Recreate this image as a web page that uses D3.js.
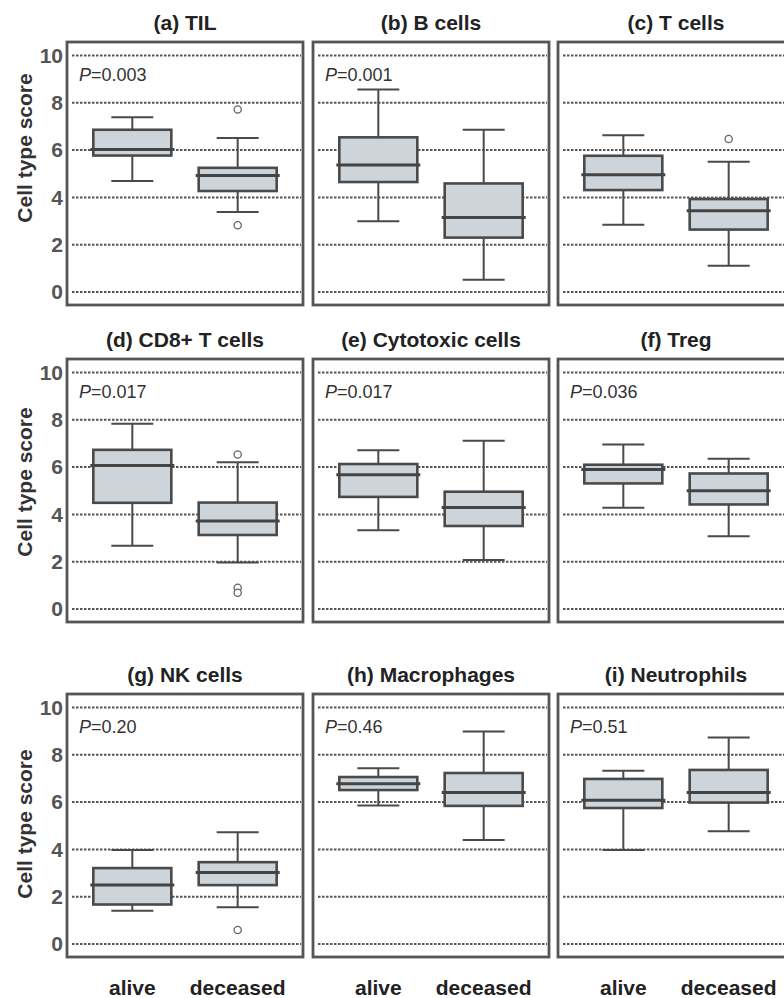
<!DOCTYPE html>
<html>
<head>
<meta charset="utf-8">
<script src="https://cdn.jsdelivr.net/npm/d3@7"></script>
<style>
  body { margin: 0; background: #fff; }
  svg { display: block; font-family: "Liberation Sans", Arial, sans-serif; }
</style>
</head>
<body>
<div id="chart"></div>
<script>
// panel titles and p values
const panelTitles = ["(a) TIL", "(b) B cells", "(c) T cells",
  "(d) CD8+ T cells", "(e) Cytotoxic cells", "(f) Treg",
  "(g) NK cells", "(h) Macrophages", "(i) Neutrophils"];
const pValues = ["0.003", "0.001", null, "0.017", "0.017", "0.036", "0.20", "0.46", "0.51"];
const groups = ["alive", "deceased"];
const yTicks = [0, 2, 4, 6, 8, 10];

// box stats per panel: [alive, deceased]
const whiskLow = [[4.69, 3.38], [2.99, 0.52], [2.84, 1.11], [2.67, 1.97], [3.33, 2.07], [4.28, 3.08], [1.41, 1.55], [5.86, 4.40], [3.97, 4.77]];
const q1 = [[5.77, 4.27], [4.65, 2.30], [4.31, 2.64], [4.49, 3.13], [4.74, 3.51], [5.31, 4.42], [1.67, 2.49], [6.51, 5.84], [5.75, 5.98]];
const medians = [[6.03, 4.93], [5.37, 3.15], [4.96, 3.44], [6.07, 3.72], [5.68, 4.29], [5.90, 5.00], [2.50, 3.02], [6.78, 6.41], [6.08, 6.41]];
const q3 = [[6.86, 5.25], [6.54, 4.59], [5.76, 3.93], [6.73, 4.50], [6.13, 4.96], [6.10, 5.73], [3.21, 3.46], [7.06, 7.23], [6.98, 7.36]];
const whiskHigh = [[7.39, 6.51], [8.56, 6.86], [6.63, 5.51], [7.83, 6.21], [6.71, 7.11], [6.96, 6.35], [3.97, 4.73], [7.43, 8.99], [7.33, 8.73]];
const outliers = [[[], [7.72, 2.82]], [[], []], [[], [6.47]], [[], [6.53, 0.90, 0.69]], [[], []], [[], []], [[], [0.59]], [[], []], [[], []]];

const width = 784, height = 998;
const colLeft = [67, 313, 558], rowTop = [42, 359, 694];
const W = 236, H = 263;
const labelY = [148, 482, 824];
const dark = "#4a4a4a";

const svg = d3.select('#chart').append('svg').attr('width', width).attr('height', height);

const y = d3.scaleLinear().domain([0, 10]).range([250, 13.5]);
const x = d3.scalePoint().domain(groups).range([0, W]).padding(0.62);
const boxW = 78, capW = 42;

panelTitles.forEach((title, i) => {
  const r = Math.floor(i / 3), c = i % 3;
  const g = svg.append('g').attr('transform', `translate(${colLeft[c]},${rowTop[r]})`);

  g.append('text').attr('x', W / 2).attr('y', -12).attr('text-anchor', 'middle')
    .attr('font-size', 21).attr('font-weight', 'bold').attr('fill', '#222').text(title);

  // dotted grid
  g.append('g').selectAll('line').data(yTicks).enter().append('line')
    .attr('x1', 5).attr('x2', W - 2)
    .attr('y1', d => y(d)).attr('y2', d => y(d))
    .attr('stroke', '#555').attr('stroke-width', 2).attr('stroke-dasharray', '2.5,1.5');

  if (c === 0) {
    const ax = g.append('g').attr('transform', 'translate(-4,0)')
      .call(d3.axisLeft(y).tickValues(yTicks).tickSize(0).tickPadding(0));
    ax.select('.domain').remove();
    ax.selectAll('text').attr('font-size', 21).attr('font-weight', 'bold')
      .attr('fill', '#555').attr('font-family', '"Liberation Sans", Arial, sans-serif');
    svg.append('text').attr('transform', `translate(32,${labelY[r]}) rotate(-90)`)
      .attr('text-anchor', 'middle').attr('font-size', 21).attr('font-weight', 'bold')
      .attr('fill', '#333').text('Cell type score');
  }

  if (pValues[i]) {
    const t = g.append('text').attr('x', 12).attr('y', 39).attr('font-size', 18).attr('fill', '#333');
    t.append('tspan').attr('font-style', 'italic').text('P');
    t.append('tspan').text('=' + pValues[i]);
  }

  groups.forEach((grp, k) => {
    const cx = x(grp);
    // whisker
    g.append('line').attr('x1', cx).attr('x2', cx)
      .attr('y1', y(whiskLow[i][k])).attr('y2', y(whiskHigh[i][k]))
      .attr('stroke', dark).attr('stroke-width', 2);
    [whiskLow[i][k], whiskHigh[i][k]].forEach(v => {
      g.append('line').attr('x1', cx - capW / 2).attr('x2', cx + capW / 2)
        .attr('y1', y(v)).attr('y2', y(v)).attr('stroke', dark).attr('stroke-width', 2);
    });
    g.append('rect').attr('x', cx - boxW / 2).attr('width', boxW)
      .attr('y', y(q3[i][k])).attr('height', y(q1[i][k]) - y(q3[i][k]))
      .attr('fill', '#cdd4da').attr('stroke', dark).attr('stroke-width', 2.6);
    g.append('line').attr('x1', cx - boxW / 2 - 3).attr('x2', cx + boxW / 2 + 3)
      .attr('y1', y(medians[i][k])).attr('y2', y(medians[i][k]))
      .attr('stroke', '#444').attr('stroke-width', 3);
    g.selectAll(null).data(outliers[i][k]).enter().append('circle')
      .attr('cx', cx).attr('cy', d => y(d)).attr('r', 3.6)
      .attr('fill', '#fff').attr('stroke', '#666').attr('stroke-width', 1.3);
  });

  g.append('rect').attr('width', W).attr('height', H)
    .attr('fill', 'none').attr('stroke', '#555').attr('stroke-width', 2.8);

  if (r === 2) {
    g.selectAll('.xl').data(groups).enter().append('text')
      .attr('x', d => x(d)).attr('y', 301).attr('text-anchor', 'middle')
      .attr('font-size', 21).attr('font-weight', 'bold').attr('fill', '#222').text(d => d);
  }
});
</script>
</body>
</html>
